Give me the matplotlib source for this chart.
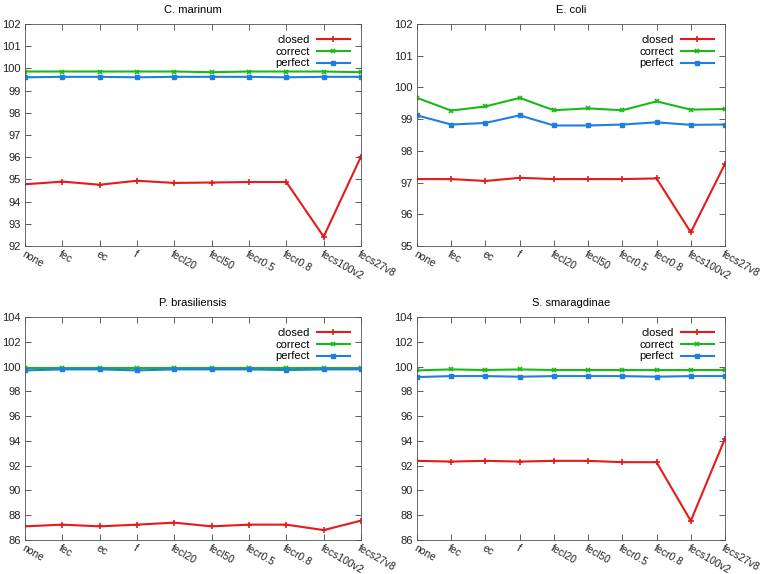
import numpy as np
import matplotlib
matplotlib.use('Agg')
import matplotlib.pyplot as plt

plt.rcParams['font.family'] = 'Liberation Sans'
plt.rcParams['font.size'] = 8

#Categories on the x axis
labels = ['none', 'fec', 'ec', 'f', 'fecl20', 'fecl50', 'fecr0.5', 'fecr0.8', 'fecs100v2', 'fecs27v8']

#C. marinum
cm_closed = [94.78, 94.90, 94.76, 94.94, 94.84, 94.86, 94.88, 94.88, 92.42, 96.03]
cm_correct = [99.86, 99.86, 99.86, 99.86, 99.86, 99.83, 99.86, 99.86, 99.86, 99.83]
cm_perfect = [99.60, 99.62, 99.62, 99.60, 99.62, 99.62, 99.62, 99.60, 99.62, 99.62]

#E. coli
ec_closed = [97.11, 97.11, 97.05, 97.15, 97.11, 97.11, 97.11, 97.13, 95.43, 97.59]
ec_correct = [99.67, 99.27, 99.40, 99.67, 99.28, 99.34, 99.28, 99.56, 99.30, 99.32]
ec_perfect = [99.12, 98.83, 98.88, 99.12, 98.80, 98.80, 98.83, 98.90, 98.82, 98.83]

#P. brasiliensis
pb_closed = [87.10, 87.24, 87.10, 87.24, 87.40, 87.10, 87.24, 87.24, 86.80, 87.56]
pb_correct = [99.92, 99.92, 99.92, 99.92, 99.92, 99.92, 99.92, 99.92, 99.92, 99.92]
pb_perfect = [99.69, 99.77, 99.77, 99.69, 99.77, 99.77, 99.77, 99.72, 99.77, 99.77]

#S. smaragdinae
ss_closed = [92.39, 92.33, 92.39, 92.33, 92.39, 92.39, 92.28, 92.28, 87.54, 94.19]
ss_correct = [99.69, 99.77, 99.72, 99.77, 99.72, 99.72, 99.72, 99.72, 99.72, 99.72]
ss_perfect = [99.15, 99.23, 99.23, 99.18, 99.23, 99.23, 99.23, 99.18, 99.23, 99.23]

panels = [
    ('C. marinum', cm_closed, cm_correct, cm_perfect, (92, 102), 1, [25, 24, 361, 246]),
    ('E. coli', ec_closed, ec_correct, ec_perfect, (95, 102), 1, [417, 24, 725, 246]),
    ('P. brasiliensis', pb_closed, pb_correct, pb_perfect, (86, 104), 2, [25, 317, 361, 540]),
    ('S. smaragdinae', ss_closed, ss_correct, ss_perfect, (86, 104), 2, [417, 317, 725, 540]),
]

W, H = 763, 574
fig = plt.figure(figsize=(W / 100, H / 100), dpi=100)
x = np.arange(len(labels))

for title, closed, correct, perfect, ylim, step, (x0, y0, x1, y1) in panels:
    ax = fig.add_axes([x0 / W, 1 - y1 / H, (x1 - x0) / W, (y1 - y0) / H])
    ax.plot(x, closed, color='#e41a1c', lw=1.5, marker='+', ms=5, mew=1.2, label='closed')
    ax.plot(x, correct, color='#1ab91a', lw=1.5, marker='x', ms=3.5, mew=1.2, label='correct')
    ax.plot(x, perfect, color='#1e7fe0', lw=1.5, marker='s', ms=3.5, label='perfect')
    ax.set_xlim(0, len(labels) - 1)
    ax.set_ylim(*ylim)
    ax.set_yticks(np.arange(ylim[0], ylim[1] + 0.1, step))
    ax.set_xticks(x)
    ax.set_xticklabels(labels, rotation=-30, ha='left', va='top', rotation_mode='anchor',
                       fontsize=7.5)
    ax.tick_params(direction='in', top=True, right=True, length=4, width=0.6,
                   color='#444444', labelcolor='#222222', pad=3)
    ax.tick_params(axis='x', pad=2)
    for s in ax.spines.values():
        s.set_linewidth(0.6)
        s.set_color('#555555')
    ax.set_title(title, fontsize=8, pad=8)
    ax.legend(loc='upper right', frameon=False, markerfirst=False, handlelength=3,
              borderaxespad=0.6, labelspacing=0.15, handletextpad=0.6, fontsize=8)

fig.savefig('out.png', dpi=100)
